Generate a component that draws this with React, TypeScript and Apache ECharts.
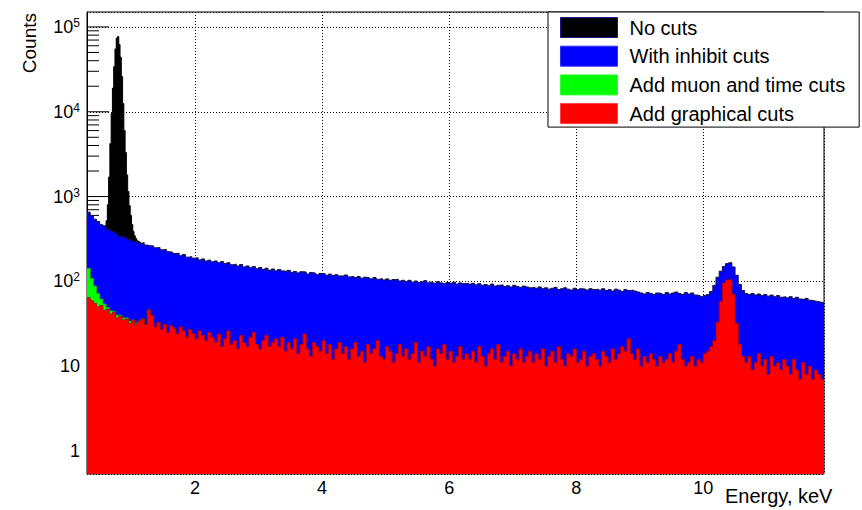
import React, { useEffect, useRef } from "react";
import * as echarts from "echarts";

const FONT = '"Liberation Sans", Arial, Helvetica, sans-serif';

// Energy binning (keV)
const ENERGY_MIN = 0.3;
const ENERGY_MAX = 11.9;
const ENERGY_BIN = 0.05;

// "With inhibit cuts" counts per 0.05 keV bin, starting at 0.30 keV
const inhibitCounts = [
  655, 594, 541, 509, 466, 452, 418, 396, 383, 364, 338, 341, 322, 309, 298, 296, 281, 286, 268, 263,
  262, 249, 251, 236, 238, 224, 221, 213, 215, 201, 207, 193, 196, 188, 190, 179, 184, 174, 178, 170,
  174, 166, 171, 162, 166, 157, 160, 152, 158, 148, 152, 145, 150, 141, 146, 138, 143, 135, 140, 133,
  138, 133, 131, 135, 128, 131, 126, 130, 129, 122, 127, 125, 120, 124, 123, 118, 122, 117, 120, 116,
  116, 119, 113, 115, 111, 114, 109, 112, 110, 107, 111, 106, 108, 104, 107, 103, 105, 106, 101, 103,
  100, 103, 98, 101, 97, 99, 102, 96, 98, 95, 99, 96, 94, 97, 95, 98, 93, 96, 94, 95,
  93, 95, 91, 94, 90, 92, 89, 93, 88, 90, 91, 87, 89, 86, 90, 87, 85, 88, 86, 84,
  85, 83, 86, 82, 84, 81, 83, 85, 80, 82, 84, 81, 79, 83, 80, 82, 81, 79, 82, 80,
  81, 79, 82, 78, 80, 77, 81, 79, 76, 80, 78, 79, 77, 75, 73, 71, 74, 72, 70, 73,
  72, 70, 74, 71, 73, 75, 72, 70, 74, 71, 73, 69, 68, 66, 68, 70, 76, 90, 112, 132,
  150, 162, 166, 148, 118, 92, 78, 72, 70, 72, 69, 71, 68, 70, 67, 69, 66, 68, 65, 66,
  64, 66, 63, 65, 62, 61, 63, 60, 59, 58, 57, 56,
];

// "Add graphical cuts" counts per 0.05 keV bin, starting at 0.30 keV
const graphicalCounts = [
  64, 59, 55, 50, 52, 45, 47, 41, 43, 37, 39, 35, 36, 32, 35, 31, 34, 36, 31, 46,
  40, 29, 33, 27, 31, 25, 30, 28, 24, 29, 26, 22, 27, 24, 21, 26, 23, 20, 25, 22,
  19, 24, 17, 21, 26, 18, 20, 16, 23, 19, 17, 22, 25, 18, 16, 20, 23, 17, 19, 21,
  17, 22, 15, 19, 16, 21, 14, 18, 24, 16, 13, 19, 17, 15, 20, 14, 18, 12, 16, 19,
  14, 17, 12, 16, 19, 13, 15, 11, 18, 14, 16, 20, 13, 12, 17, 15, 11, 14, 18, 13,
  16, 12, 14, 19, 11, 15, 13, 17, 12, 10, 16, 14, 18, 12, 15, 11, 13, 17, 12, 14,
  12, 15, 11, 17, 13, 10, 14, 16, 12, 18, 11, 13, 15, 10, 14, 12, 16, 11, 13, 15,
  11, 14, 12, 16, 10, 13, 15, 11, 17, 12, 10, 14, 13, 16, 11, 12, 15, 10, 13, 14,
  12, 10, 15, 13, 11, 16, 12, 14, 17, 15, 21, 14, 12, 16, 10, 13, 11, 14, 12, 10,
  13, 11, 12, 14, 11, 15, 18, 12, 10, 11, 13, 10, 12, 11, 14, 15, 17, 20, 33, 58,
  96, 104, 105, 70, 32, 18, 13, 11, 13, 9, 11, 14, 10, 12, 8, 13, 10, 11, 9, 12,
  10, 8, 12, 9, 7, 11, 8, 10, 7, 9, 8, 7,
];

// "Add muon and time cuts" counts per 0.05 keV bin, 0.30 - 1.30 keV
const muonTimeCounts = [
  142, 108, 88, 72, 62, 54, 49, 45, 44, 40, 40, 37, 37, 34, 35, 32, 34, 36, 31, 46,
];

// "No cuts" counts around the low-energy peak, 0.02 keV bins from 0.56 keV
const NOCUT_START = 0.56;
const NOCUT_BIN = 0.02;
const noCutCounts = [
  420, 430, 520, 800, 1700, 4200, 9500, 19000, 34000, 55000, 74000, 77000,
  62000, 44000, 26000, 12500, 6000, 3300, 1800, 1150, 780, 600, 470, 390,
  345, 320, 305, 295, 290, 280, 275, 268,
];

const seriesNames = ["No cuts", "With inhibit cuts", "Add muon and time cuts", "Add graphical cuts"];
const seriesColors = ["#000000", "#0000ff", "#00ff00", "#ff0000"];
const seriesEdgeColors = ["#000000", "#14143c", "#00c000", "#b80000"];
const swatchBorders = ["#1a1a8c", "#3030ff", "#30ff30", "#ff4040"];

const DECADES = [1, 10, 100, 1000, 10000, 100000];
const MINOR_MULTIPLIERS = [2, 3, 4, 5, 6, 7, 8, 9];
const Y_MIN = 0.536;
const Y_MAX = 150000;

function toSteps(start: number, width: number, values: number[]) {
  const pts: [number, number][] = values.map((v, i) => [+(start + i * width).toFixed(4), v]);
  pts.push([+(start + values.length * width).toFixed(4), values[values.length - 1]]);
  return pts;
}

function buildTicks() {
  const out: [number, number, number][] = [];
  const minorDecades = [0.1, ...DECADES];
  minorDecades.forEach((d) => {
    MINOR_MULTIPLIERS.forEach((m) => {
      const v = m * d;
      if (v > Y_MIN && v < Y_MAX) out.push([ENERGY_MIN, v, 0]);
    });
  });
  DECADES.forEach((d) => out.push([ENERGY_MIN, d, 1]));
  return out;
}

export default function App() {
  const ref = useRef<HTMLDivElement>(null);

  useEffect(() => {
    if (!ref.current) return;
    const chart = echarts.init(ref.current, null, { renderer: "svg" });

    const datasets = [
      toSteps(NOCUT_START, NOCUT_BIN, noCutCounts),
      toSteps(ENERGY_MIN, ENERGY_BIN, inhibitCounts),
      toSteps(ENERGY_MIN, ENERGY_BIN, muonTimeCounts),
      toSteps(ENERGY_MIN, ENERGY_BIN, graphicalCounts),
    ];

    const histSeries = datasets.map((data, i) => ({
      name: seriesNames[i],
      type: "line",
      step: "end",
      data,
      z: 2 + i,
      showSymbol: false,
      symbol: "none",
      silent: true,
      itemStyle: { color: seriesColors[i] },
      lineStyle: { color: seriesEdgeColors[i], width: 1 },
      areaStyle: { color: seriesColors[i], opacity: 1, origin: "start" },
    }));

    const option: any = {
      animation: false,
      backgroundColor: "#ffffff",
      textStyle: { fontFamily: FONT },
      grid: {
        left: 87,
        right: 38,
        top: 12,
        bottom: 36,
        show: true,
        borderColor: "#000",
        borderWidth: 1,
        backgroundColor: "transparent",
      },
      legend: {
        orient: "vertical",
        left: 548,
        top: 12,
        itemWidth: 57,
        itemHeight: 20,
        itemGap: 7.7,
        padding: [5, 14, 3, 12],
        backgroundColor: "#fff",
        borderColor: "#000",
        borderWidth: 1,
        icon: "rect",
        selectedMode: false,
        z: 20,
        textStyle: { fontSize: 20, fontFamily: FONT, color: "#000", padding: [0, 0, 0, 7] },
        data: seriesNames.map((n, i) => ({
          name: n,
          itemStyle: { color: seriesColors[i], borderColor: swatchBorders[i], borderWidth: 1 },
        })),
      },
      xAxis: {
        type: "value",
        min: ENERGY_MIN,
        max: ENERGY_MAX,
        splitNumber: 5,
        axisLine: { show: false },
        axisTick: { show: false },
        axisLabel: {
          fontSize: 18,
          fontFamily: FONT,
          color: "#000",
          margin: 5,
          showMinLabel: false,
          showMaxLabel: false,
        },
        splitLine: { show: true, lineStyle: { color: "#000", width: 1, type: [1, 2] } },
      },
      yAxis: {
        type: "log",
        logBase: 10,
        min: Y_MIN,
        max: Y_MAX,
        axisLine: { show: true, lineStyle: { color: "#000", width: 1 } },
        axisTick: { show: false },
        axisLabel: {
          fontSize: 18,
          fontFamily: FONT,
          color: "#000",
          margin: 7,
          showMinLabel: false,
          showMaxLabel: false,
          formatter: (v: number) => {
            const e = Math.round(Math.log10(v));
            if (e === 0) return "1";
            if (e === 1) return "10";
            return `{b|10}{s|${e}}`;
          },
          rich: {
            b: { fontSize: 18, fontFamily: FONT, color: "#000", lineHeight: 20 },
            s: { fontSize: 12, fontFamily: FONT, color: "#000", lineHeight: 12, verticalAlign: "top" },
          },
        },
        splitLine: { show: true, lineStyle: { color: "#000", width: 1, type: [1, 2] } },
      },
      graphic: [
        {
          type: "text",
          x: 725,
          y: 496,
          style: {
            text: "Energy, keV",
            fontSize: 20,
            fontFamily: FONT,
            fill: "#000",
            align: "left",
            verticalAlign: "middle",
          },
        },
        {
          type: "text",
          x: 29,
          y: 13,
          rotation: Math.PI / 2,
          style: {
            text: "Counts",
            fontSize: 19,
            fontFamily: FONT,
            fill: "#000",
            align: "right",
            verticalAlign: "middle",
          },
        },
      ],
      series: [
        {
          type: "custom",
          name: "ticks",
          z: 1,
          silent: true,
          data: buildTicks(),
          renderItem: (params: any, api: any) => {
            const cs = params.coordSys;
            const p = api.coord([api.value(0), api.value(1)]);
            const len = api.value(2) === 1 ? 22 : 12;
            return {
              type: "line",
              shape: { x1: cs.x, y1: p[1], x2: cs.x + len, y2: p[1] },
              style: { stroke: "#000", lineWidth: 1 },
            };
          },
        },
        ...histSeries,
      ],
    };

    chart.setOption(option);
    return () => chart.dispose();
  }, []);

  return (
    <div
      ref={ref}
      style={{ position: "fixed", left: 0, top: 0, width: 862, height: 510, background: "#fff" }}
    />
  );
}
